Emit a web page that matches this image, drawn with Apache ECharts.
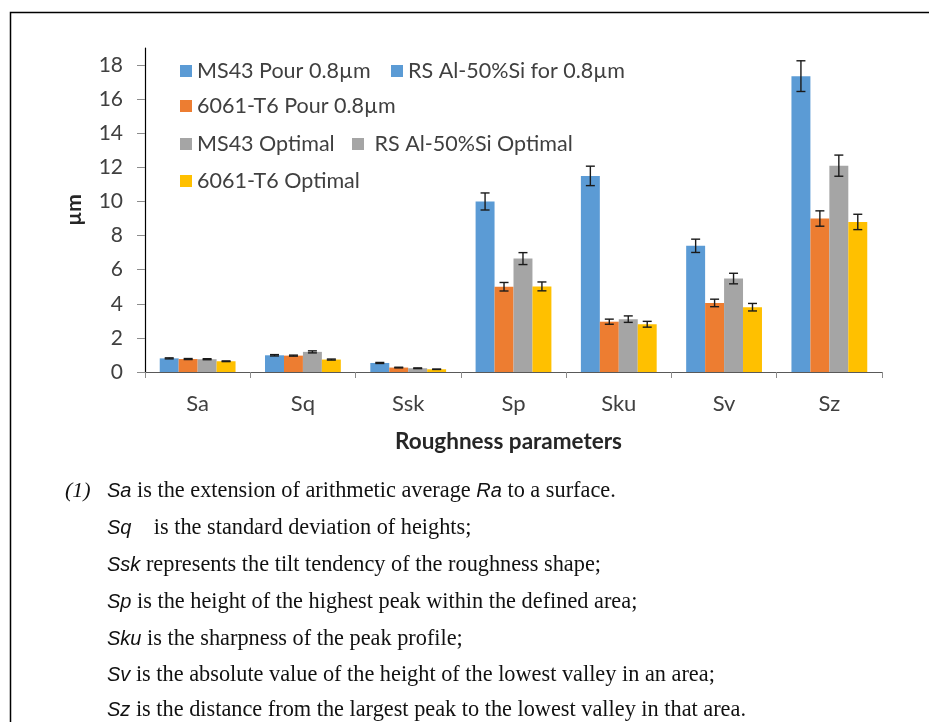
<!DOCTYPE html>
<html>
<head>
<meta charset="utf-8">
<script src="https://cdn.jsdelivr.net/npm/echarts@6/dist/echarts.min.js"></script>
<style>
  html, body { margin: 0; padding: 0; background: #fff; }
  #chart { width: 929px; height: 722px; }
</style>
</head>
<body>
<div id="chart"></div>
<script>
// Surface roughness parameters (µm) by sample
const categories = ['Sa', 'Sq', 'Ssk', 'Sp', 'Sku', 'Sv', 'Sz'];

const ms43Pour = [0.80, 0.98, 0.53, 10.0, 11.5, 7.4, 17.35];
const ms43PourErr = [0.03, 0.04, 0.03, 0.5, 0.57, 0.39, 0.9];

const t6Pour = [0.76, 0.96, 0.26, 5.0, 2.95, 4.05, 9.0];
const t6PourErr = [0.03, 0.03, 0.02, 0.25, 0.15, 0.22, 0.45];

const ms43Opt = [0.75, 1.18, 0.22, 6.65, 3.1, 5.48, 12.1];
const ms43OptErr = [0.03, 0.06, 0.02, 0.35, 0.19, 0.31, 0.62];

const t6Opt = [0.63, 0.73, 0.16, 5.02, 2.8, 3.8, 8.8];
const t6OptErr = [0.02, 0.03, 0.01, 0.26, 0.17, 0.22, 0.45];

const seriesNames = ['MS43 Pour 0.8µm', '6061-T6 Pour 0.8µm', 'MS43 Optimal', '6061-T6 Optimal'];
const extraNames = ['RS Al-50%Si for 0.8µm', 'RS Al-50%Si Optimal'];
const yTicks = [0, 2, 4, 6, 8, 10, 12, 14, 16, 18];

const colors = ['#5B9BD5', '#ED7D31', '#A5A5A5', '#FFC000'];
const values = [ms43Pour, t6Pour, ms43Opt, t6Opt];
const errors = [ms43PourErr, t6PourErr, ms43OptErr, t6OptErr];

const CAT_GAP = 0.28;
const UI_FONT = 'Lato, "Open Sans", sans-serif';

// error bar records: [categoryIndex, mean, error, seriesIndex]
const errData = [];
values.forEach((vals, s) => {
  vals.forEach((v, i) => errData.push([i, v, errors[s][i], s]));
});

function renderErr(params, api) {
  const i = api.value(0), v = api.value(1), e = api.value(2), s = api.value(3);
  const band = api.size([1, 0])[0];
  const barW = band * (1 - CAT_GAP) / 4;
  const c = api.coord([i, v]);
  const x = c[0] + (s - 1.5) * barW;
  const yHi = api.coord([i, v + e])[1];
  const yLo = api.coord([i, v - e])[1];
  const cap = 4.5;
  const st = { stroke: '#1a1a1a', lineWidth: 1.4 };
  return {
    type: 'group',
    children: [
      { type: 'line', shape: { x1: x, y1: yHi, x2: x, y2: yLo }, style: st },
      { type: 'line', shape: { x1: x - cap, y1: yHi, x2: x + cap, y2: yHi }, style: st },
      { type: 'line', shape: { x1: x - cap, y1: yLo, x2: x + cap, y2: yLo }, style: st }
    ]
  };
}

function legendAt(name, left, top, formatter) {
  const l = {
    data: [name], left: left, top: top, padding: 0,
    icon: 'rect', itemWidth: 12, itemHeight: 12, itemGap: 0,
    selectedMode: false,
    textStyle: { fontFamily: UI_FONT, fontSize: 21.5, color: '#404040', lineHeight: 26 }
  };
  if (formatter) l.formatter = formatter;
  return l;
}

const serif = '"Liberation Serif", "DejaVu Serif", serif';
const sans = '"Liberation Sans", Arial, sans-serif';
const noteRich = {
  s: { fontFamily: sans, fontStyle: 'italic', fontSize: 20, fill: '#111' },
  t: { fontFamily: serif, fontSize: 22.3, fill: '#111' }
};
const noteLines = [
  '{s|Sa}{t| is the extension of arithmetic average }{s|Ra}{t| to a surface.}',
  '{s|Sq}{t|    is the standard deviation of heights;}',
  '{s|Ssk}{t| represents the tilt tendency of the roughness shape;}',
  '{s|Sp}{t| is the height of the highest peak within the defined area;}',
  '{s|Sku}{t| is the sharpness of the peak profile;}',
  '{s|Sv}{t| is the absolute value of the height of the lowest valley in an area;}',
  '{s|Sz}{t| is the distance from the largest peak to the lowest valley in that area.}'
];
const noteY = [493, 530, 567, 604, 641, 677, 712];

const graphics = [
  { type: 'polyline', shape: { points: [[10.5, 722], [10.5, 12.5], [929, 12.5]] },
    style: { stroke: '#000', lineWidth: 1.5, fill: null } },
  { type: 'text', left: 65, top: noteY[0] - 13,
    style: { text: '(1)', font: 'italic 22px ' + serif, fill: '#111' } }
];
noteLines.forEach((t, k) => {
  graphics.push({
    type: 'text', left: 107, top: noteY[k] - 13,
    style: { text: t, rich: noteRich, verticalAlign: 'top' }
  });
});

const series = values.map((vals, s) => ({
  name: seriesNames[s],
  type: 'bar',
  data: vals,
  barCategoryGap: (CAT_GAP * 100) + '%',
  barGap: '0%',
  itemStyle: { color: colors[s] }
}));
// legend-only entries
series.push({ name: extraNames[0], type: 'line', data: [], itemStyle: { color: colors[0] } });
series.push({ name: extraNames[1], type: 'line', data: [], itemStyle: { color: colors[2] } });
series.push({
  type: 'custom', renderItem: renderErr, data: errData, z: 10, silent: true
});

const option = {
  animation: false,
  backgroundColor: '#fff',
  grid: { left: 145, right: 47, top: 48, bottom: 350, containLabel: false },
  legend: [
    legendAt(seriesNames[0], 180, 58),
    legendAt(extraNames[0], 391, 58),
    legendAt(seriesNames[1], 180, 93),
    legendAt(seriesNames[2], 180, 131),
    legendAt(extraNames[1], 352, 131, ' {name}'),
    legendAt(seriesNames[3], 180, 168)
  ],
  xAxis: {
    type: 'category',
    data: categories,
    name: 'Roughness parameters',
    nameLocation: 'middle',
    nameGap: 58,
    nameTextStyle: { fontFamily: UI_FONT, fontSize: 22.5, fontWeight: 'bold', color: '#262626', padding: [0, 10, 0, 0] },
    axisLine: { lineStyle: { color: '#595959', width: 1.2 } },
    axisTick: { show: true, length: 6, lineStyle: { color: '#8c8c8c' } },
    axisLabel: { fontFamily: UI_FONT, fontSize: 22, color: '#404040', margin: 21 }
  },
  yAxis: {
    type: 'value',
    min: 0, max: 19,
    name: 'µm',
    nameLocation: 'middle',
    nameRotate: 90,
    nameGap: 60,
    nameTextStyle: { fontFamily: UI_FONT, fontSize: 21, fontWeight: 'bold', color: '#262626' },
    splitLine: { show: false },
    axisLine: { show: true, lineStyle: { color: '#000', width: 1.2 } },
    axisTick: { show: true, length: 8, customValues: yTicks, lineStyle: { color: '#8c8c8c' } },
    axisLabel: { fontFamily: UI_FONT, fontSize: 21, color: '#404040', margin: 22, customValues: yTicks }
  },
  series: series,
  graphic: graphics
};

const chart = echarts.init(document.getElementById('chart'), null, { renderer: 'canvas' });
chart.setOption(option);
</script>
</body>
</html>
